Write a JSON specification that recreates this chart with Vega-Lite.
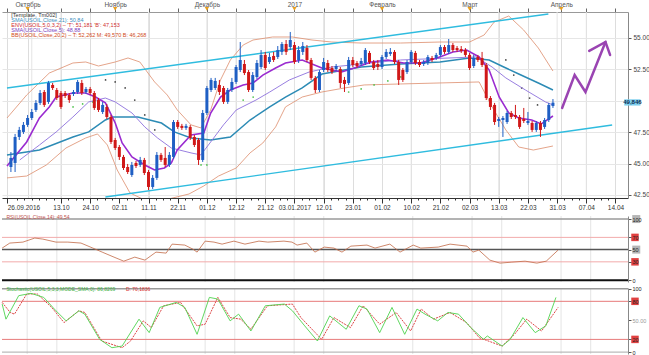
{
"$schema": "https://vega.github.io/schema/vega-lite/v6.json",
"padding": 0,
"background": "white",
"config": {"view": {"stroke": null}, "axis": {"labelFont": "Liberation Sans", "labelFontSize": 6.5, "labelColor": "#333", "tickColor": "#555", "domainColor": "#888", "labelOverlap": false}},
"datasets": {
"candles": [
{"i":0,"o":44.73,"h":45.92,"l":44.33,"c":45.45},{"i":1,"o":45.05,"h":47.36,"l":44.33,"c":47.12},{"i":2,"o":47.12,"h":47.92,"l":46.88,"c":47.68},{"i":3,"o":47.52,"h":48.31,"l":47.36,"c":48.08},{"i":4,"o":48.08,"h":48.87,"l":47.92,"c":48.63},{"i":5,"o":48.63,"h":49.35,"l":48.47,"c":49.11},{"i":6,"o":49.27,"h":50.06,"l":49.11,"c":49.83},{"i":7,"o":49.83,"h":50.86,"l":49.67,"c":50.62},{"i":8,"o":50.70,"h":50.86,"l":49.51,"c":49.67},{"i":9,"o":49.91,"h":51.58,"l":49.75,"c":51.42},
{"i":10,"o":51.26,"h":51.42,"l":50.86,"c":51.02},{"i":11,"o":50.86,"h":51.02,"l":50.06,"c":50.22},{"i":12,"o":50.62,"h":50.78,"l":49.35,"c":49.51},{"i":13,"o":50.62,"h":50.78,"l":50.22,"c":50.38},{"i":14,"o":50.46,"h":50.62,"l":49.83,"c":50.06},{"i":15,"o":50.54,"h":50.86,"l":50.38,"c":50.70},{"i":16,"o":50.70,"h":51.66,"l":50.54,"c":51.50},{"i":17,"o":51.42,"h":51.66,"l":50.46,"c":50.62},{"i":18,"o":50.70,"h":51.10,"l":50.54,"c":50.94},{"i":19,"o":50.94,"h":51.10,"l":50.46,"c":50.62},
{"i":20,"o":50.62,"h":50.78,"l":49.27,"c":49.43},{"i":21,"o":50.06,"h":50.22,"l":49.11,"c":49.27},{"i":22,"o":49.11,"h":49.91,"l":48.95,"c":49.67},{"i":23,"o":49.51,"h":49.75,"l":48.55,"c":48.71},{"i":24,"o":48.71,"h":48.87,"l":46.56,"c":46.72},{"i":25,"o":46.88,"h":47.04,"l":46.08,"c":46.24},{"i":26,"o":46.32,"h":46.48,"l":45.29,"c":45.53},{"i":27,"o":45.53,"h":45.69,"l":44.49,"c":44.65},{"i":28,"o":44.73,"h":44.97,"l":44.17,"c":44.33},{"i":29,"o":44.09,"h":45.13,"l":43.94,"c":44.89},
{"i":30,"o":45.05,"h":45.21,"l":44.65,"c":44.81},{"i":31,"o":44.89,"h":45.53,"l":44.73,"c":45.29},{"i":32,"o":45.29,"h":45.45,"l":44.09,"c":44.25},{"i":33,"o":44.33,"h":44.49,"l":42.90,"c":43.14},{"i":34,"o":43.14,"h":44.09,"l":42.98,"c":43.86},{"i":35,"o":43.86,"h":45.92,"l":43.70,"c":45.69},{"i":36,"o":45.69,"h":45.85,"l":45.13,"c":45.29},{"i":37,"o":45.45,"h":46.32,"l":44.73,"c":44.89},{"i":38,"o":44.89,"h":45.92,"l":44.73,"c":45.69},{"i":39,"o":45.53,"h":48.47,"l":45.37,"c":48.31},
{"i":40,"o":48.31,"h":48.47,"l":47.76,"c":47.92},{"i":41,"o":48.00,"h":48.16,"l":47.68,"c":47.84},{"i":42,"o":47.84,"h":48.16,"l":47.68,"c":48.00},{"i":43,"o":47.92,"h":48.08,"l":46.88,"c":47.04},{"i":44,"o":47.12,"h":47.28,"l":46.32,"c":46.48},{"i":45,"o":46.88,"h":47.04,"l":44.89,"c":45.29},{"i":46,"o":45.29,"h":49.27,"l":45.13,"c":49.03},{"i":47,"o":49.03,"h":51.18,"l":48.87,"c":51.02},{"i":48,"o":50.86,"h":51.82,"l":50.70,"c":51.66},{"i":49,"o":51.02,"h":51.82,"l":50.86,"c":51.58},
{"i":50,"o":51.26,"h":51.66,"l":50.46,"c":50.70},{"i":51,"o":51.02,"h":51.18,"l":49.75,"c":49.91},{"i":52,"o":49.91,"h":51.02,"l":49.75,"c":50.86},{"i":53,"o":50.86,"h":51.82,"l":50.70,"c":51.50},{"i":54,"o":51.50,"h":52.85,"l":51.34,"c":52.69},{"i":55,"o":52.45,"h":54.68,"l":52.29,"c":53.25},{"i":56,"o":52.93,"h":53.25,"l":52.05,"c":52.21},{"i":57,"o":52.29,"h":52.45,"l":50.70,"c":50.86},{"i":58,"o":50.86,"h":52.29,"l":50.70,"c":52.05},{"i":59,"o":51.90,"h":53.25,"l":51.74,"c":53.01},
{"i":60,"o":52.69,"h":54.04,"l":52.53,"c":53.65},{"i":61,"o":53.65,"h":53.89,"l":52.45,"c":52.61},{"i":62,"o":53.09,"h":53.81,"l":52.93,"c":53.49},{"i":63,"o":53.57,"h":53.89,"l":53.09,"c":53.25},{"i":64,"o":53.49,"h":54.36,"l":53.33,"c":54.04},{"i":65,"o":53.89,"h":54.68,"l":53.65,"c":54.52},{"i":66,"o":54.52,"h":54.84,"l":53.65,"c":53.89},{"i":67,"o":54.28,"h":55.48,"l":54.04,"c":54.84},{"i":68,"o":54.44,"h":54.68,"l":52.93,"c":53.09},{"i":69,"o":53.25,"h":54.36,"l":53.01,"c":54.04},
{"i":70,"o":53.89,"h":54.68,"l":53.65,"c":54.36},{"i":71,"o":54.20,"h":54.44,"l":53.09,"c":53.25},{"i":72,"o":53.25,"h":53.41,"l":51.66,"c":51.82},{"i":73,"o":51.82,"h":51.98,"l":50.62,"c":50.86},{"i":74,"o":50.86,"h":52.45,"l":50.70,"c":52.29},{"i":75,"o":52.45,"h":53.41,"l":52.29,"c":53.09},{"i":76,"o":53.01,"h":53.25,"l":52.29,"c":52.45},{"i":77,"o":52.61,"h":52.77,"l":52.13,"c":52.29},{"i":78,"o":52.53,"h":52.93,"l":52.37,"c":52.77},{"i":79,"o":52.53,"h":52.69,"l":51.02,"c":51.42},
{"i":80,"o":51.66,"h":51.90,"l":50.70,"c":51.34},{"i":81,"o":51.42,"h":53.49,"l":51.26,"c":53.25},{"i":82,"o":53.25,"h":53.49,"l":52.69,"c":52.85},{"i":83,"o":53.01,"h":53.17,"l":52.61,"c":52.77},{"i":84,"o":52.93,"h":53.41,"l":52.77,"c":53.17},{"i":85,"o":53.01,"h":54.20,"l":52.85,"c":54.04},{"i":86,"o":53.81,"h":53.97,"l":52.93,"c":53.09},{"i":87,"o":53.09,"h":53.25,"l":52.45,"c":52.61},{"i":88,"o":52.93,"h":53.25,"l":52.45,"c":52.69},{"i":89,"o":52.69,"h":53.65,"l":52.53,"c":53.49},
{"i":90,"o":53.49,"h":54.12,"l":53.33,"c":53.89},{"i":91,"o":53.73,"h":54.20,"l":53.57,"c":53.89},{"i":92,"o":53.89,"h":54.04,"l":52.93,"c":53.09},{"i":93,"o":53.09,"h":53.25,"l":51.26,"c":51.66},{"i":94,"o":52.45,"h":52.61,"l":51.50,"c":51.66},{"i":95,"o":52.29,"h":53.25,"l":52.13,"c":53.09},{"i":96,"o":53.09,"h":54.04,"l":52.93,"c":53.89},{"i":97,"o":53.81,"h":53.97,"l":52.85,"c":53.01},{"i":98,"o":53.09,"h":53.25,"l":52.69,"c":52.85},{"i":99,"o":52.93,"h":53.25,"l":52.77,"c":53.09},
{"i":100,"o":53.01,"h":53.65,"l":52.85,"c":53.49},{"i":101,"o":53.41,"h":53.57,"l":53.09,"c":53.25},{"i":102,"o":53.41,"h":53.81,"l":53.25,"c":53.65},{"i":103,"o":53.65,"h":54.44,"l":53.49,"c":54.28},{"i":104,"o":54.28,"h":54.44,"l":53.73,"c":53.89},{"i":105,"o":53.89,"h":54.92,"l":53.73,"c":54.44},{"i":106,"o":54.44,"h":54.60,"l":53.89,"c":54.04},{"i":107,"o":54.20,"h":54.36,"l":53.89,"c":54.04},{"i":108,"o":54.12,"h":54.36,"l":53.81,"c":53.97},{"i":109,"o":54.04,"h":54.20,"l":53.49,"c":53.65},
{"i":110,"o":53.65,"h":53.81,"l":52.45,"c":52.61},{"i":111,"o":52.77,"h":53.65,"l":52.61,"c":53.41},{"i":112,"o":53.49,"h":53.65,"l":53.09,"c":53.25},{"i":113,"o":53.41,"h":53.89,"l":52.69,"c":52.85},{"i":114,"o":52.85,"h":53.01,"l":50.06,"c":50.22},{"i":115,"o":50.22,"h":50.38,"l":49.27,"c":49.51},{"i":116,"o":49.67,"h":49.83,"l":48.08,"c":48.31},{"i":117,"o":48.39,"h":48.71,"l":47.92,"c":48.55},{"i":118,"o":48.47,"h":48.79,"l":47.12,"c":48.63},{"i":119,"o":48.31,"h":49.19,"l":48.16,"c":49.03},
{"i":120,"o":49.03,"h":49.19,"l":48.55,"c":48.71},{"i":121,"o":48.87,"h":49.67,"l":48.55,"c":48.71},{"i":122,"o":48.71,"h":48.87,"l":47.76,"c":47.92},{"i":123,"o":48.55,"h":49.43,"l":48.23,"c":48.39},{"i":124,"o":48.23,"h":49.11,"l":48.08,"c":48.39},{"i":125,"o":48.23,"h":48.39,"l":47.52,"c":47.68},{"i":126,"o":47.68,"h":48.39,"l":47.52,"c":48.23},{"i":127,"o":48.23,"h":48.39,"l":47.12,"c":47.68},{"i":128,"o":47.92,"h":48.63,"l":47.76,"c":48.47},{"i":129,"o":48.47,"h":49.83,"l":48.31,"c":49.67},
{"i":130,"o":49.59,"h":50.14,"l":49.43,"c":49.85}
],
"sma21": [{"i":-0.94,"p":45.69},{"i":6.84,"p":46.08},{"i":14.87,"p":47.12},{"i":18.65,"p":47.52},{"i":22.66,"p":48.47},{"i":24.31,"p":48.71},{"i":30.45,"p":48.71},{"i":36.11,"p":48.23},{"i":39.18,"p":47.52},{"i":43.2,"p":47.04},{"i":47.91,"p":46.88},{"i":52.63,"p":47.12},{"i":57.35,"p":48.47},{"i":62.07,"p":49.51},{"i":65.85,"p":50.30},{"i":69.86,"p":51.02},{"i":74.6,"p":52.13},{"i":84.02,"p":52.69},{"i":93.46,"p":52.93},{"i":102.9,"p":53.09},{"i":110.0,"p":53.41},{"i":114.7,"p":53.25},{"i":118.2,"p":52.69},{"i":121.8,"p":52.13},{"i":126.5,"p":51.42},{"i":130.0,"p":50.86}],
"sma10": [{"i":2.12,"p":45.29},{"i":6.84,"p":46.48},{"i":10.86,"p":47.52},{"i":14.87,"p":48.71},{"i":18.65,"p":49.91},{"i":22.66,"p":50.22},{"i":25.02,"p":49.91},{"i":29.03,"p":49.03},{"i":32.1,"p":47.92},{"i":35.17,"p":47.04},{"i":38.47,"p":46.24},{"i":43.2,"p":45.85},{"i":45.55,"p":45.69},{"i":47.91,"p":46.72},{"i":50.98,"p":48.08},{"i":54.05,"p":49.27},{"i":58.77,"p":50.06},{"i":62.07,"p":50.70},{"i":66.79,"p":51.66},{"i":71.51,"p":52.29},{"i":76.94,"p":52.69},{"i":84.02,"p":52.93},{"i":93.46,"p":53.25},{"i":105.3,"p":53.41},{"i":111.6,"p":53.49},{"i":115.4,"p":52.69},{"i":118.7,"p":51.82},{"i":123.4,"p":50.86},{"i":128.2,"p":49.91},{"i":130.0,"p":49.67}],
"sma5": [{"i":-0.94,"p":44.81},{"i":3.78,"p":46.72},{"i":6.84,"p":48.63},{"i":9.2,"p":49.51},{"i":10.86,"p":50.30},{"i":14.87,"p":50.62},{"i":17.94,"p":50.62},{"i":20.3,"p":50.30},{"i":22.66,"p":49.83},{"i":25.02,"p":48.23},{"i":26.67,"p":46.64},{"i":29.03,"p":45.53},{"i":32.1,"p":44.89},{"i":34.46,"p":44.49},{"i":36.82,"p":44.65},{"i":38.47,"p":45.05},{"i":39.89,"p":46.08},{"i":43.2,"p":47.28},{"i":46.26,"p":47.44},{"i":47.91,"p":49.03},{"i":50.27,"p":50.30},{"i":52.63,"p":50.86},{"i":55.7,"p":51.26},{"i":58.06,"p":51.42},{"i":60.42,"p":52.05},{"i":63.49,"p":52.61},{"i":65.85,"p":53.01},{"i":69.86,"p":53.25},{"i":74.58,"p":52.61},{"i":79.3,"p":52.29},{"i":82.37,"p":52.61},{"i":86.38,"p":53.09},{"i":90.39,"p":53.25},{"i":94.17,"p":53.01},{"i":98.18,"p":53.01},{"i":102.2,"p":53.41},{"i":106.0,"p":53.89},{"i":109.3,"p":54.04},{"i":112.3,"p":53.49},{"i":114.7,"p":52.45},{"i":117.1,"p":50.30},{"i":119.4,"p":49.03},{"i":121.8,"p":48.63},{"i":124.9,"p":48.47},{"i":127.2,"p":48.16},{"i":130.0,"p":48.79}],
"bb": [
{"b":"u","i":-0.94,"p":48.63},{"b":"u","i":3.78,"p":50.46},{"b":"u","i":9.2,"p":52.21},{"b":"u","i":14.87,"p":53.01},{"b":"u","i":17.94,"p":53.09},{"b":"u","i":21.0,"p":52.77},{"b":"u","i":25.02,"p":53.09},{"b":"u","i":28.09,"p":53.41},{"b":"u","i":30.92,"p":53.09},{"b":"u","i":34.46,"p":51.50},{"b":"u","i":37.5,"p":50.46},{"b":"u","i":39.9,"p":49.27},{"b":"u","i":43.2,"p":48.08},{"b":"u","i":45.55,"p":47.84},{"b":"u","i":47.91,"p":49.27},{"b":"u","i":50.27,"p":51.66},{"b":"u","i":52.63,"p":53.25},{"b":"u","i":55.7,"p":54.44},{"b":"u","i":58.06,"p":54.84},{"b":"u","i":62.78,"p":55.08},{"b":"u","i":67.5,"p":55.08},{"b":"u","i":72.22,"p":54.84},{"b":"u","i":76.94,"p":54.68},{"b":"u","i":84.02,"p":54.60},{"b":"u","i":93.46,"p":54.60},{"b":"u","i":102.9,"p":54.68},{"b":"u","i":110.0,"p":54.68},{"b":"u","i":113.5,"p":55.24},{"b":"u","i":115.9,"p":56.27},{"b":"u","i":119.4,"p":56.75},{"b":"u","i":122.96,"p":55.64},{"b":"u","i":126.5,"p":54.20},{"b":"u","i":130.0,"p":52.37},
{"b":"l","i":-0.94,"p":43.86},{"b":"l","i":3.78,"p":44.01},{"b":"l","i":8.5,"p":44.89},{"b":"l","i":13.2,"p":46.24},{"b":"l","i":17.94,"p":47.04},{"b":"l","i":20.77,"p":47.36},{"b":"l","i":23.13,"p":46.48},{"b":"l","i":25.49,"p":44.49},{"b":"l","i":28.56,"p":42.66},{"b":"l","i":32.1,"p":42.10},{"b":"l","i":36.82,"p":42.10},{"b":"l","i":42.72,"p":42.58},{"b":"l","i":46.26,"p":43.22},{"b":"l","i":49.8,"p":44.01},{"b":"l","i":54.05,"p":44.65},{"b":"l","i":57.35,"p":45.85},{"b":"l","i":60.42,"p":46.64},{"b":"l","i":63.49,"p":47.92},{"b":"l","i":65.85,"p":49.51},{"b":"l","i":69.86,"p":50.30},{"b":"l","i":74.58,"p":50.70},{"b":"l","i":80.01,"p":51.02},{"b":"l","i":84.73,"p":51.26},{"b":"l","i":93.46,"p":51.34},{"b":"l","i":102.9,"p":51.42},{"b":"l","i":112.3,"p":51.50},{"b":"l","i":115.4,"p":49.51},{"b":"l","i":118.7,"p":47.68},{"b":"l","i":121.8,"p":46.32},{"b":"l","i":125.3,"p":46.08},{"b":"l","i":130.0,"p":46.40}],
"chan": [{"s":"u","i":-0.94,"p":51.02},{"s":"u","i":128.9,"p":56.91},{"s":"l","i":22.66,"p":42.34},{"s":"l","i":144.2,"p":48.07}],
"arrow": [{"s":"a","k":0,"i":132.2,"p":49.43},{"s":"a","k":1,"i":135.2,"p":52.05},{"s":"a","k":2,"i":137.8,"p":50.70},{"s":"a","k":3,"i":142.6,"p":54.68},{"s":"h","k":0,"i":138.7,"p":53.97},{"s":"h","k":1,"i":142.6,"p":54.68},{"s":"h","k":2,"i":143.7,"p":53.65}],
"sar": [{"u":"up","i":14.9,"p":49.51},{"u":"up","i":17.2,"p":49.75},{"u":"up","i":19.6,"p":49.91},{"u":"up","i":45.6,"p":44.89},{"u":"up","i":47.0,"p":44.89},{"u":"up","i":55.7,"p":50.06},{"u":"up","i":58.1,"p":50.30},{"u":"up","i":81.0,"p":50.70},{"u":"up","i":84.0,"p":50.94},{"u":"up","i":87.1,"p":51.26},{"u":"up","i":90.4,"p":51.58},{"u":"up","i":93.5,"p":51.90},{"u":"dn","i":22.7,"p":51.66},{"u":"dn","i":25.0,"p":51.50},{"u":"dn","i":27.4,"p":51.02},{"u":"dn","i":29.7,"p":50.06},{"u":"dn","i":32.1,"p":48.87},{"u":"dn","i":34.5,"p":47.68},{"u":"dn","i":118.7,"p":53.25},{"u":"dn","i":120.6,"p":52.05},{"u":"dn","i":122.5,"p":51.02},{"u":"dn","i":124.4,"p":50.22},{"u":"dn","i":126.3,"p":49.67}],
"vgrid": [{"i":5},{"i":12},{"i":33},{"i":47},{"i":54},{"i":68},{"i":75},{"i":96},{"i":110},{"i":117},{"i":131},{"i":138}],
"months": [{"i":4},{"i":25},{"i":47},{"i":68},{"i":89},{"i":110},{"i":132}],
"rsi": [{"i":-0.9,"v":52.5},{"i":0.9,"v":60.7},{"i":4.0,"v":62.3},{"i":6.8,"v":68.9},{"i":8.7,"v":67.2},{"i":11.8,"v":62.3},{"i":14.6,"v":62.3},{"i":17.7,"v":60.7},{"i":20.5,"v":52.5},{"i":22.7,"v":45.9},{"i":25.5,"v":37.7},{"i":27.8,"v":31.1},{"i":30.4,"v":37.7},{"i":32.8,"v":32.8},{"i":35.4,"v":45.9},{"i":37.8,"v":44.3},{"i":39.2,"v":59.0},{"i":42.2,"v":57.4},{"i":44.1,"v":50.8},{"i":45.1,"v":45.9},{"i":47.0,"v":63.9},{"i":49.1,"v":62.3},{"i":51.0,"v":59.0},{"i":53.8,"v":63.9},{"i":56.4,"v":59.0},{"i":59.7,"v":63.9},{"i":61.8,"v":62.3},{"i":65.6,"v":63.9},{"i":67.5,"v":62.3},{"i":68.7,"v":57.4},{"i":71.0,"v":60.7},{"i":72.9,"v":45.9},{"i":75.1,"v":54.1},{"i":77.4,"v":52.5},{"i":79.3,"v":45.9},{"i":81.4,"v":55.7},{"i":85.2,"v":57.4},{"i":87.1,"v":52.5},{"i":90.6,"v":59.0},{"i":93.0,"v":45.9},{"i":96.1,"v":57.4},{"i":97.9,"v":52.5},{"i":102.0,"v":54.1},{"i":104.8,"v":59.0},{"i":106.7,"v":57.4},{"i":108.8,"v":55.7},{"i":110.2,"v":45.9},{"i":111.6,"v":49.2},{"i":114.2,"v":32.8},{"i":116.6,"v":27.9},{"i":119.4,"v":29.5},{"i":122.5,"v":31.1},{"i":125.3,"v":27.9},{"i":127.5,"v":31.1},{"i":130.3,"v":49.2}],
"stk": [{"i":-0.9,"v":75.7},{"i":0.0,"v":51.9},{"i":3.0,"v":88.9},{"i":5.9,"v":92.6},{"i":8.9,"v":86.2},{"i":11.8,"v":65.1},{"i":14.2,"v":49.2},{"i":17.2,"v":65.1},{"i":18.6,"v":59.8},{"i":22.1,"v":20.1},{"i":25.0,"v":6.9},{"i":27.4,"v":9.5},{"i":31.4,"v":51.9},{"i":33.8,"v":30.7},{"i":36.3,"v":70.4},{"i":40.2,"v":78.3},{"i":42.2,"v":70.4},{"i":45.1,"v":28.0},{"i":48.0,"v":86.2},{"i":50.0,"v":83.6},{"i":52.9,"v":49.2},{"i":54.9,"v":59.8},{"i":57.8,"v":33.3},{"i":61.2,"v":73.0},{"i":65.7,"v":75.7},{"i":67.6,"v":65.1},{"i":70.5,"v":41.3},{"i":73.5,"v":17.5},{"i":76.4,"v":57.1},{"i":80.3,"v":36.0},{"i":83.3,"v":73.0},{"i":85.2,"v":67.8},{"i":88.2,"v":30.7},{"i":91.1,"v":70.4},{"i":94.1,"v":28.0},{"i":97.0,"v":67.8},{"i":98.9,"v":59.8},{"i":101.9,"v":49.2},{"i":104.3,"v":62.4},{"i":106.8,"v":59.8},{"i":109.7,"v":38.6},{"i":112.7,"v":20.1},{"i":113.6,"v":25.4},{"i":117.1,"v":9.5},{"i":119.0,"v":20.1},{"i":122.0,"v":54.4},{"i":124.9,"v":30.7},{"i":127.4,"v":41.3},{"i":129.8,"v":86.2}],
"std": [{"i":-0.9,"v":78.3},{"i":1.0,"v":62.4},{"i":2.0,"v":59.8},{"i":4.9,"v":91.6},{"i":7.4,"v":91.6},{"i":10.8,"v":70.4},{"i":13.7,"v":46.5},{"i":17.2,"v":65.1},{"i":18.6,"v":62.4},{"i":22.6,"v":17.5},{"i":27.4,"v":6.9},{"i":29.4,"v":17.5},{"i":32.4,"v":49.2},{"i":34.3,"v":38.6},{"i":37.2,"v":73.0},{"i":41.2,"v":78.3},{"i":45.1,"v":41.3},{"i":47.0,"v":44.0},{"i":50.0,"v":86.2},{"i":52.9,"v":54.4},{"i":55.4,"v":51.9},{"i":57.8,"v":36.0},{"i":61.7,"v":73.0},{"i":67.6,"v":75.7},{"i":69.6,"v":54.4},{"i":74.5,"v":20.1},{"i":77.4,"v":54.4},{"i":81.3,"v":38.6},{"i":84.3,"v":73.0},{"i":88.2,"v":44.0},{"i":92.1,"v":62.4},{"i":95.5,"v":33.3},{"i":98.0,"v":67.8},{"i":100.9,"v":51.9},{"i":104.8,"v":62.4},{"i":108.7,"v":46.5},{"i":111.7,"v":22.7},{"i":117.1,"v":9.5},{"i":120.0,"v":28.0},{"i":122.9,"v":51.9},{"i":126.4,"v":33.3},{"i":130.3,"v":70.4}]
},
"bounds": "flush",
"spacing": 18,
"vconcat": [
{
"width": 626, "height": 186,
"resolve": {"axis": {"x": "independent", "y": "independent"}},
"layer": [
{"data": {"name": "vgrid"}, "mark": {"type": "rule", "color": "#e4e4e4", "strokeWidth": 1},
 "encoding": {"x": {"field": "i", "type": "quantitative", "scale": {"domain": [-0.94, 146.8], "nice": false, "zero": false},
   "axis": {"orient": "top", "title": null, "values": [-0.9,4,12,19,25,33,40,47,54,61,68,75,82,89,96,103,110,117,124,132,138,145], "labelExpr": "indexof([4,25,47,68,89,110,132], datum.value) >= 0 ? ['Октябрь','Ноябрь','Декабрь','2017','Февраль','Март','Апрель'][indexof([4,25,47,68,89,110,132], datum.value)] : ''", "tickSize": 4, "labelPadding": 1, "labelFontSize": 6.5, "labelColor": "#555", "domainColor": "#999", "tickColor": "#666", "minExtent": 12, "maxExtent": 12}}}},
{"data": {"name": "bb"}, "mark": {"type": "line", "color": "#dd8d6c", "strokeWidth": 0.8, "clip": true},
 "encoding": {"x": {"field": "i", "type": "quantitative", "scale": {"domain": [-0.94, 146.8], "nice": false, "zero": false}, "axis": null},
   "y": {"field": "p", "type": "quantitative", "scale": {"domain": [42.26, 57.07], "nice": false, "zero": false}, "axis": null},
   "detail": {"field": "b"}}},
{"data": {"name": "chan"}, "mark": {"type": "line", "color": "#2fbcdf", "strokeWidth": 1.4, "clip": true},
 "encoding": {"x": {"field": "i", "type": "quantitative", "scale": {"domain": [-0.94, 146.8], "nice": false, "zero": false}, "axis": null},
   "y": {"field": "p", "type": "quantitative", "scale": {"domain": [42.26, 57.07], "nice": false, "zero": false}, "axis": null},
   "detail": {"field": "s"}}},
{"data": {"name": "sar"}, "mark": {"type": "point", "filled": true, "size": 3, "opacity": 0.9},
 "encoding": {"x": {"field": "i", "type": "quantitative", "scale": {"domain": [-0.94, 146.8], "nice": false, "zero": false}, "axis": null},
   "y": {"field": "p", "type": "quantitative", "scale": {"domain": [42.26, 57.07], "nice": false, "zero": false}, "axis": null},
   "color": {"field": "u", "type": "nominal", "scale": {"domain": ["up", "dn"], "range": ["#3cbc3c", "#333333"]}, "legend": null}}},
{"data": {"name": "sma21"}, "mark": {"type": "line", "color": "#2c8bb5", "strokeWidth": 1.5},
 "encoding": {"x": {"field": "i", "type": "quantitative", "scale": {"domain": [-0.94, 146.8], "nice": false, "zero": false}, "axis": null},
   "y": {"field": "p", "type": "quantitative", "scale": {"domain": [42.26, 57.07], "nice": false, "zero": false}, "axis": null}}},
{"data": {"name": "sma10"}, "mark": {"type": "line", "color": "#8d70dc", "strokeWidth": 0.9},
 "encoding": {"x": {"field": "i", "type": "quantitative", "scale": {"domain": [-0.94, 146.8], "nice": false, "zero": false}, "axis": null},
   "y": {"field": "p", "type": "quantitative", "scale": {"domain": [42.26, 57.07], "nice": false, "zero": false}, "axis": null}}},
{"data": {"name": "sma5"}, "mark": {"type": "line", "color": "#9a2bd0", "strokeWidth": 1.6},
 "encoding": {"x": {"field": "i", "type": "quantitative", "scale": {"domain": [-0.94, 146.8], "nice": false, "zero": false}, "axis": null},
   "y": {"field": "p", "type": "quantitative", "scale": {"domain": [42.26, 57.07], "nice": false, "zero": false}, "axis": null}}},
{"data": {"name": "candles"}, "mark": {"type": "rule", "strokeWidth": 1},
 "encoding": {"x": {"field": "i", "type": "quantitative", "scale": {"domain": [-0.94, 146.8], "nice": false, "zero": false}, "axis": null},
   "y": {"field": "l", "type": "quantitative", "scale": {"domain": [42.26, 57.07], "nice": false, "zero": false}, "axis": null},
   "y2": {"field": "h"},
   "color": {"condition": {"test": "datum.c >= datum.o", "value": "#1f5fc4"}, "value": "#d01818"}}},
{"data": {"name": "candles"}, "mark": {"type": "bar", "size": 3},
 "encoding": {"x": {"field": "i", "type": "quantitative", "scale": {"domain": [-0.94, 146.8], "nice": false, "zero": false},
   "axis": {"orient": "bottom", "title": null, "values": [-0.9,1.5,3.25,5,6.75,8.5,10.25,12,13.75,15.5,17.25,19,20.75,22.5,24.25,26,27.75,29.5,31.25,33,34.75,36.5,38.25,40,41.75,43.5,45.25,47,48.75,50.5,52.25,54,55.75,57.5,59.25,61,62.75,64.5,66.25,68,69.75,71.5,73.25,75,76.75,78.5,80.25,82,83.75,85.5,87.25,89,90.75,92.5,94.25,96,97.75,99.5,101.25,103,104.75,106.5,108.25,110,111.75,113.5,115.25,117,118.75,120.5,122.25,124,125.75,127.5,129.25,131,132.75,134.5,136.25,138,139.75,141.5,143.25,145],
     "labelExpr": "indexof([-0.9,12,19,26,33,40,47,54,61,68,75,82,89,96,103,110,117,124,131,138,145], datum.value) >= 0 ? ['26.09.2016','13.10','24.10','02.11','11.11','22.11','01.12','12.12','21.12','03.01.2017','12.01','23.01','01.02','10.02','21.02','02.03','13.03','22.03','31.03','07.04','14.04'][indexof([-0.9,12,19,26,33,40,47,54,61,68,75,82,89,96,103,110,117,124,131,138,145], datum.value)] : ''",
     "labelAlign": {"condition": {"test": "datum.value < 0", "value": "left"}, "value": "center"},
     "tickSize": {"condition": {"test": "indexof([-0.9,12,19,26,33,40,47,54,61,68,75,82,89,96,103,110,117,124,131,138,145], datum.value) >= 0", "value": 5}, "value": 2},
     "labelPadding": 1, "labelFontSize": 6.5, "domainColor": "#333", "tickColor": "#333", "minExtent": 12, "maxExtent": 12}},
   "y": {"field": "o", "type": "quantitative", "scale": {"domain": [42.26, 57.07], "nice": false, "zero": false},
     "axis": {"orient": "right", "title": null, "values": [42.5, 45, 47.5, 50, 52.5, 55], "labelExpr": "datum.value == 50 ? '' : format(datum.value, '.2f')", "grid": true, "gridColor": "#e6e6e6", "tickSize": 3, "labelPadding": 2, "labelFontSize": 6.5, "labelColor": "#444"}},
   "y2": {"field": "c"},
   "color": {"condition": {"test": "datum.c >= datum.o", "value": "#1f5fc4"}, "value": "#d01818"}}},
{"data": {"name": "arrow"}, "mark": {"type": "line", "color": "#9a44b2", "strokeWidth": 2.5, "strokeCap": "round", "strokeJoin": "miter"},
 "encoding": {"x": {"field": "i", "type": "quantitative", "scale": {"domain": [-0.94, 146.8], "nice": false, "zero": false}, "axis": null},
   "y": {"field": "p", "type": "quantitative", "scale": {"domain": [42.26, 57.07], "nice": false, "zero": false}, "axis": null},
   "detail": {"field": "s"}, "order": {"field": "k"}}},
{"data": {"name": "months"}, "mark": {"type": "point", "shape": "triangle-down", "filled": true, "size": 18, "color": "#e8a020", "opacity": 1},
 "encoding": {"x": {"field": "i", "type": "quantitative", "scale": {"domain": [-0.94, 146.8], "nice": false, "zero": false}, "axis": null},
   "y": {"datum": 57.32, "type": "quantitative", "scale": {"domain": [42.26, 57.07], "nice": false, "zero": false}, "axis": null}}},
{"data": {"values": [{"t": "49,846"}]}, "mark": {"type": "rect", "color": "#7fd0ee"},
 "encoding": {"x": {"datum": 147.1, "type": "quantitative", "scale": {"domain": [-0.94, 146.8], "nice": false, "zero": false}, "axis": null},
   "x2": {"datum": 151.0},
   "y": {"datum": 50.12, "type": "quantitative", "scale": {"domain": [42.26, 57.07], "nice": false, "zero": false}, "axis": null},
   "y2": {"datum": 49.62}}},
{"data": {"values": [{"t": "49,846"}]}, "mark": {"type": "text", "align": "center", "baseline": "middle", "fontSize": 6, "fontWeight": "bold", "font": "Liberation Sans", "color": "#0d2f55"},
 "encoding": {"x": {"datum": 149.05, "type": "quantitative", "scale": {"domain": [-0.94, 146.8], "nice": false, "zero": false}, "axis": null},
   "y": {"datum": 49.88, "type": "quantitative", "scale": {"domain": [42.26, 57.07], "nice": false, "zero": false}, "axis": null},
   "text": {"field": "t"}}},
{"data": {"values": [{"t": "[Template, Tm002]"}]}, "mark": {"type": "text", "align": "left", "baseline": "middle", "fontSize": 5.5, "font": "Liberation Sans", "color": "#333333"},
 "encoding": {"x": {"datum": 0.1, "type": "quantitative", "scale": {"domain": [-0.94, 146.8], "nice": false, "zero": false}, "axis": null},
   "y": {"datum": 56.83, "type": "quantitative", "scale": {"domain": [42.26, 57.07], "nice": false, "zero": false}, "axis": null}, "text": {"field": "t"}}},
{"data": {"values": [{"t": "SMA(USOIL,Close,21): 50,84"}]}, "mark": {"type": "text", "align": "left", "baseline": "middle", "fontSize": 5.5, "font": "Liberation Sans", "color": "#3a8fc0"},
 "encoding": {"x": {"datum": 0.1, "type": "quantitative", "scale": {"domain": [-0.94, 146.8], "nice": false, "zero": false}, "axis": null},
   "y": {"datum": 56.43, "type": "quantitative", "scale": {"domain": [42.26, 57.07], "nice": false, "zero": false}, "axis": null}, "text": {"field": "t"}}},
{"data": {"values": [{"t": "ENV(USOIL,5,0,3,2) – 'T': 51,181  'B': 47,153"}]}, "mark": {"type": "text", "align": "left", "baseline": "middle", "fontSize": 5.5, "font": "Liberation Sans", "color": "#d03030"},
 "encoding": {"x": {"datum": 0.1, "type": "quantitative", "scale": {"domain": [-0.94, 146.8], "nice": false, "zero": false}, "axis": null},
   "y": {"datum": 56.03, "type": "quantitative", "scale": {"domain": [42.26, 57.07], "nice": false, "zero": false}, "axis": null}, "text": {"field": "t"}}},
{"data": {"values": [{"t": "SMA(USOIL,Close,5): 48,88"}]}, "mark": {"type": "text", "align": "left", "baseline": "middle", "fontSize": 5.5, "font": "Liberation Sans", "color": "#7b3fc0"},
 "encoding": {"x": {"datum": 0.1, "type": "quantitative", "scale": {"domain": [-0.94, 146.8], "nice": false, "zero": false}, "axis": null},
   "y": {"datum": 55.64, "type": "quantitative", "scale": {"domain": [42.26, 57.07], "nice": false, "zero": false}, "axis": null}, "text": {"field": "t"}}},
{"data": {"values": [{"t": "BB(USOIL,Close,20,2) – T: 52,262  M: 49,570  B: 46,268"}]}, "mark": {"type": "text", "align": "left", "baseline": "middle", "fontSize": 5.5, "font": "Liberation Sans", "color": "#d04a20"},
 "encoding": {"x": {"datum": 0.1, "type": "quantitative", "scale": {"domain": [-0.94, 146.8], "nice": false, "zero": false}, "axis": null},
   "y": {"datum": 55.24, "type": "quantitative", "scale": {"domain": [42.26, 57.07], "nice": false, "zero": false}, "axis": null}, "text": {"field": "t"}}}
]
},
{
"bounds": "flush",
"spacing": 6,
"vconcat": [
{
"width": 626, "height": 66,
"resolve": {"axis": {"y": "independent"}},
"layer": [
{"data": {"name": "vgrid"}, "mark": {"type": "rule", "color": "#e4e4e4", "strokeWidth": 1},
 "encoding": {"x": {"field": "i", "type": "quantitative", "scale": {"domain": [-0.94, 146.8], "nice": false, "zero": false}, "axis": null}}},
{"data": {"values": [{"v": 70}, {"v": 30}]}, "mark": {"type": "rule", "color": "#f2abab", "strokeWidth": 1},
 "encoding": {"y": {"field": "v", "type": "quantitative", "scale": {"domain": [-3, 105], "nice": false, "zero": false}, "axis": null}}},
{"data": {"values": [{"v": 100}]}, "mark": {"type": "rule", "color": "#9a9a9a", "strokeWidth": 1.5},
 "encoding": {"y": {"field": "v", "type": "quantitative", "scale": {"domain": [-3, 105], "nice": false, "zero": false}, "axis": null}}},
{"data": {"values": [{"v": 50}]}, "mark": {"type": "rule", "color": "#555555", "strokeWidth": 1.5},
 "encoding": {"y": {"field": "v", "type": "quantitative", "scale": {"domain": [-3, 105], "nice": false, "zero": false}, "axis": null}}},
{"data": {"values": [{"v": 0}]}, "mark": {"type": "rule", "color": "#111111", "strokeWidth": 2},
 "encoding": {"y": {"field": "v", "type": "quantitative", "scale": {"domain": [-3, 105], "nice": false, "zero": false}, "axis": null}}},
{"data": {"values": [{"v": 70}, {"v": 30}]}, "mark": {"type": "point", "shape": "square", "filled": true, "size": 56, "color": "#e04040", "opacity": 1},
 "encoding": {"x": {"datum": 148.45, "type": "quantitative", "scale": {"domain": [-0.94, 146.8], "nice": false, "zero": false}, "axis": null},
   "y": {"field": "v", "type": "quantitative", "scale": {"domain": [-3, 105], "nice": false, "zero": false}, "axis": null}}},
{"data": {"values": [{"v": 100}, {"v": 50}]}, "mark": {"type": "point", "shape": "square", "filled": true, "size": 64, "color": "#b5b5b5", "opacity": 1},
 "encoding": {"x": {"datum": 148.75, "type": "quantitative", "scale": {"domain": [-0.94, 146.8], "nice": false, "zero": false}, "axis": null},
   "y": {"field": "v", "type": "quantitative", "scale": {"domain": [-3, 105], "nice": false, "zero": false}, "axis": null}}},
{"data": {"name": "rsi"}, "mark": {"type": "line", "color": "#c26a46", "strokeWidth": 0.8},
 "encoding": {"x": {"field": "i", "type": "quantitative", "scale": {"domain": [-0.94, 146.8], "nice": false, "zero": false}, "axis": null},
   "y": {"field": "v", "type": "quantitative", "scale": {"domain": [-3, 105], "nice": false, "zero": false},
     "axis": {"orient": "right", "title": null, "values": [0, 30, 50, 70, 100], "tickSize": 3, "labelPadding": 1, "labelFontSize": 5.5, "labelColor": "#222", "zindex": 1, "grid": false}}}},
{"data": {"values": [{"t": "RSI(USOIL,Close,14): 49,54"}]}, "mark": {"type": "text", "align": "left", "baseline": "middle", "fontSize": 5, "font": "Liberation Sans", "color": "#c0504d"},
 "encoding": {"x": {"datum": 0.1, "type": "quantitative", "scale": {"domain": [-0.94, 146.8], "nice": false, "zero": false}, "axis": null},
   "y": {"datum": 103.3, "type": "quantitative", "scale": {"domain": [-3, 105], "nice": false, "zero": false}, "axis": null}, "text": {"field": "t"}}}
]
},
{
"width": 626, "height": 66,
"resolve": {"axis": {"y": "independent"}},
"layer": [
{"data": {"name": "vgrid"}, "mark": {"type": "rule", "color": "#e4e4e4", "strokeWidth": 1},
 "encoding": {"x": {"field": "i", "type": "quantitative", "scale": {"domain": [-0.94, 146.8], "nice": false, "zero": false}, "axis": null}}},
{"data": {"values": [{"v": 80}, {"v": 20}]}, "mark": {"type": "rule", "color": "#e77a7a", "strokeWidth": 1},
 "encoding": {"y": {"field": "v", "type": "quantitative", "scale": {"domain": [-3, 101], "nice": false, "zero": false}, "axis": null}}},
{"data": {"values": [{"v": 100}]}, "mark": {"type": "rule", "color": "#999999", "strokeWidth": 1.5},
 "encoding": {"y": {"field": "v", "type": "quantitative", "scale": {"domain": [-3, 101], "nice": false, "zero": false}, "axis": null}}},
{"data": {"values": [{"v": 0}]}, "mark": {"type": "rule", "color": "#aaaaaa", "strokeWidth": 1},
 "encoding": {"y": {"field": "v", "type": "quantitative", "scale": {"domain": [-3, 101], "nice": false, "zero": false}, "axis": null}}},
{"data": {"values": [{"v": 80}, {"v": 20}]}, "mark": {"type": "point", "shape": "square", "filled": true, "size": 56, "color": "#e04040", "opacity": 1},
 "encoding": {"x": {"datum": 148.45, "type": "quantitative", "scale": {"domain": [-0.94, 146.8], "nice": false, "zero": false}, "axis": null},
   "y": {"field": "v", "type": "quantitative", "scale": {"domain": [-3, 101], "nice": false, "zero": false}, "axis": null}}},
{"data": {"name": "std"}, "mark": {"type": "line", "color": "#d83030", "strokeWidth": 0.9, "strokeDash": [2, 1]},
 "encoding": {"x": {"field": "i", "type": "quantitative", "scale": {"domain": [-0.94, 146.8], "nice": false, "zero": false}, "axis": null},
   "y": {"field": "v", "type": "quantitative", "scale": {"domain": [-3, 101], "nice": false, "zero": false}, "axis": null}}},
{"data": {"name": "stk"}, "mark": {"type": "line", "color": "#4fd24f", "strokeWidth": 0.9},
 "encoding": {"x": {"field": "i", "type": "quantitative", "scale": {"domain": [-0.94, 146.8], "nice": false, "zero": false}, "axis": null},
   "y": {"field": "v", "type": "quantitative", "scale": {"domain": [-3, 101], "nice": false, "zero": false},
     "axis": {"orient": "right", "title": null, "values": [0, 20, 50, 80, 100], "labelExpr": "datum.value == 50 ? '50.00' : datum.label", "labelColor": {"condition": {"test": "datum.value == 50", "value": "#999"}, "value": "#222"}, "tickSize": 3, "labelPadding": 1, "labelFontSize": 5.5, "zindex": 1, "grid": false}}}},
{"data": {"values": [{"t": "Stochastic(USOIL,5,3,3,MODE_SMA,0): 86,8269"}]}, "mark": {"type": "text", "align": "left", "baseline": "middle", "fontSize": 5, "font": "Liberation Sans", "color": "#3cb043"},
 "encoding": {"x": {"datum": 0.1, "type": "quantitative", "scale": {"domain": [-0.94, 146.8], "nice": false, "zero": false}, "axis": null},
   "y": {"datum": 99.5, "type": "quantitative", "scale": {"domain": [-3, 101], "nice": false, "zero": false}, "axis": null}, "text": {"field": "t"}}},
{"data": {"values": [{"t": "D: 70,1836"}]}, "mark": {"type": "text", "align": "left", "baseline": "middle", "fontSize": 5, "font": "Liberation Sans", "color": "#d83030"},
 "encoding": {"x": {"datum": 28.3, "type": "quantitative", "scale": {"domain": [-0.94, 146.8], "nice": false, "zero": false}, "axis": null},
   "y": {"datum": 99.5, "type": "quantitative", "scale": {"domain": [-3, 101], "nice": false, "zero": false}, "axis": null}, "text": {"field": "t"}}}
]
}
]
}
]
}
